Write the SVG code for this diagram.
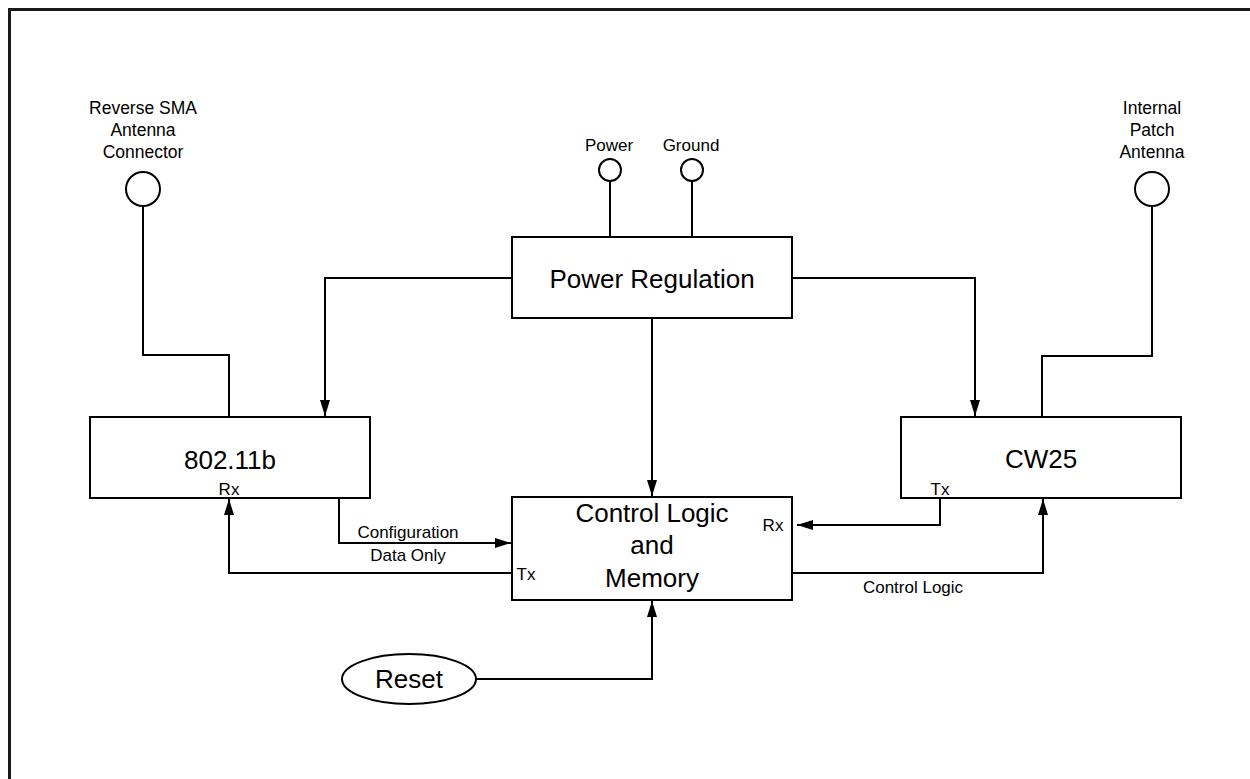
<svg xmlns="http://www.w3.org/2000/svg" width="1250" height="779" viewBox="0 0 1250 779">
<style>
.box{fill:#fff;stroke:#000;stroke-width:2}
.ln{fill:none;stroke:#000;stroke-width:2}
.t{font-family:"Liberation Sans",Arial,sans-serif;fill:#000;text-anchor:middle}
.big{font-size:26px}
.sm{font-size:17px}
.lb{font-size:17.5px}
</style>
<defs>
<marker id="ah" viewBox="0 0 16 10" refX="16" refY="5" markerWidth="16" markerHeight="10" markerUnits="userSpaceOnUse" orient="auto">
<path d="M0,0 L16,5 L0,10 Z" fill="#000"/>
</marker>
</defs>
<rect x="0" y="0" width="1250" height="779" fill="#fff"/>
<path d="M9.5,779 L9.5,9.5 L1250,9.5" fill="none" stroke="#1a1a1a" stroke-width="3"/>

<g id="connectors">
<path class="ln" d="M143,206 V355 H229 V417"/>
<path class="ln" d="M610,181 V237"/>
<path class="ln" d="M692,181 V237"/>
<path class="ln" d="M1152,206 V356 H1042 V417"/>
<path class="ln" d="M512,278 H325 V416" marker-end="url(#ah)"/>
<path class="ln" d="M792,278 H975 V416" marker-end="url(#ah)"/>
<path class="ln" d="M652,318 V496" marker-end="url(#ah)"/>
<path class="ln" d="M512,573 H229 V499" marker-end="url(#ah)"/>
<path class="ln" d="M339,499 V543 H511" marker-end="url(#ah)"/>
<path class="ln" d="M940,498 V525 H797" marker-end="url(#ah)"/>
<path class="ln" d="M792,573 H1043 V499" marker-end="url(#ah)"/>
<path class="ln" d="M476,679 H652 V601" marker-end="url(#ah)"/>
</g>

<g id="sma">
<circle class="box" cx="143" cy="189" r="17"/>
<text class="t lb" x="143" y="114">Reverse SMA</text>
<text class="t lb" x="143" y="136">Antenna</text>
<text class="t lb" x="143" y="158">Connector</text>
</g>
<g id="patch">
<circle class="box" cx="1152" cy="189" r="17"/>
<text class="t lb" x="1152" y="114">Internal</text>
<text class="t lb" x="1152" y="136">Patch</text>
<text class="t lb" x="1152" y="158">Antenna</text>
</g>
<g id="power">
<circle class="box" cx="610" cy="170" r="11"/>
<text class="t sm" x="609" y="151">Power</text>
</g>
<g id="ground">
<circle class="box" cx="692" cy="170" r="11"/>
<text class="t sm" x="691" y="151">Ground</text>
</g>
<g id="powerreg">
<rect class="box" x="512" y="237" width="280" height="81"/>
<text class="t big" x="652" y="288">Power Regulation</text>
</g>
<g id="wifi">
<rect class="box" x="90" y="417" width="280" height="81"/>
<text class="t big" x="230" y="469">802.11b</text>
<text class="t sm" x="229" y="495">Rx</text>
</g>
<g id="cw25">
<rect class="box" x="901" y="417" width="280" height="81"/>
<text class="t big" x="1041" y="468">CW25</text>
<text class="t sm" x="940" y="495">Tx</text>
</g>
<g id="control">
<rect class="box" x="512" y="497" width="280" height="103"/>
<text class="t big" x="652" y="522">Control Logic</text>
<text class="t big" x="652" y="554">and</text>
<text class="t big" x="652" y="587">Memory</text>
<text class="t sm" x="773" y="531">Rx</text>
<text class="t sm" x="526" y="580">Tx</text>
</g>
<g id="reset">
<ellipse class="box" cx="409" cy="679" rx="67" ry="25"/>
<text class="t big" x="409" y="688">Reset</text>
</g>
<g id="labels">
<text class="t sm" x="408" y="538">Configuration</text>
<text class="t sm" x="408" y="561">Data Only</text>
<text class="t sm" x="913" y="593">Control Logic</text>
</g>
</svg>
